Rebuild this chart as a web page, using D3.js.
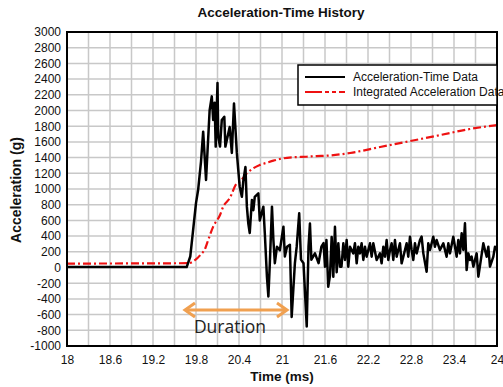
<!DOCTYPE html>
<html>
<head>
<meta charset="utf-8">
<script src="https://cdn.jsdelivr.net/npm/d3@7"></script>
<style>
  body { margin: 0; background: #fff; }
  svg { display: block; font-family: "Liberation Sans", Arial, sans-serif; }
</style>
</head>
<body>
<script>
var svgWidth = 503;
var svgHeight = 387;
var plotLeft = 67, plotRight = 497, plotTop = 32, plotBottom = 346;

// x tick labels (ms) and y tick labels (g)
var xTicks = [18, 18.6, 19.2, 19.8, 20.4, 21, 21.6, 22.2, 22.8, 23.4, 24];
var yTicks = [-1000, -800, -600, -400, -200, 0, 200, 400, 600, 800, 1000, 1200, 1400,
    1600, 1800, 2000, 2200, 2400, 2600, 2800, 3000];
var seriesNames = ["Acceleration-Time Data", "Integrated Acceleration Data"];

// acceleration-time data
var accTime = [18.00, 19.67, 19.72, 19.76, 19.80, 19.83, 19.87, 19.90, 19.94, 19.99, 20.02, 20.04,
    20.06, 20.075, 20.10, 20.11, 20.135, 20.16, 20.195, 20.21, 20.27, 20.30, 20.33, 20.37,
    20.39, 20.41, 20.44, 20.46, 20.49, 20.51, 20.53, 20.55, 20.58, 20.60, 20.62, 20.67,
    20.69, 20.74, 20.76, 20.79, 20.81, 20.83, 20.86, 20.88, 20.90, 20.93, 20.97, 21.02,
    21.04, 21.07, 21.11, 21.135, 21.18, 21.205, 21.24, 21.265, 21.30, 21.345, 21.37, 21.39,
    21.41, 21.46, 21.51, 21.55, 21.58, 21.60, 21.62, 21.645, 21.67, 21.693, 21.716, 21.739,
    21.763, 21.786, 21.809, 21.83, 21.856, 21.879, 21.902, 21.925, 21.949, 21.995, 22.018,
    22.042, 22.065, 22.088, 22.111, 22.135, 22.158, 22.181, 22.228, 22.251, 22.274, 22.321,
    22.367, 22.390, 22.414, 22.437, 22.460, 22.483, 22.507, 22.530, 22.553, 22.576, 22.600,
    22.646, 22.669, 22.693, 22.716, 22.739, 22.762, 22.786, 22.809, 22.832, 22.855, 22.879,
    22.925, 22.948, 22.972, 23.018, 23.041, 23.065, 23.111, 23.134, 23.158, 23.204, 23.251,
    23.297, 23.321, 23.344, 23.390, 23.414, 23.437, 23.460, 23.483, 23.507, 23.530, 23.553,
    23.576, 23.600, 23.623, 23.646, 23.670, 23.716, 23.74, 23.809, 23.832, 23.856, 23.879,
    23.902, 23.949, 23.972, 24.00];
var accValue = [5, 5, 140, 480, 820, 990, 1350, 1730, 1115, 2000, 2180, 1880,
    2100, 1540, 2350, 1670, 1540, 1880, 1920, 1540, 1790, 1460, 2090, 1460,
    1240, 1030, 900, 1100, 1280, 775, 560, 440, 860, 730, 900, 945,
    600, 775, 440, -120, -370, 50, 775, 350, 55, 265, 220, 520,
    140, 265, 290, -630, 55, 265, 690, 100, 55, -750, 265, 560,
    100, 180, 55, 265, 310, 10, 350, -245, -100, 390, -117, 520,
    -60, 308, 11, 10, 308, 96, 350, 11, 265, 180, 308,
    53, 265, 180, 308, 96, 265, 138, 308, 138, 308, 96,
    180, 53, 265, 138, 350, 96, 223, 308, 96, 350, 138,
    308, 53, 138, 223, 308, 138, 393, 223, 96, 308, 180,
    350, 393, 180, -53, 308, 223, 393, 265, 350, 223, 308,
    138, 308, 180, 393, 265, 138, 350, 180, 435, 223, 563,
    -32, 180, 96, 138, 11, 180, -117, 308, 223, 138, 265,
    11, 138, 265, 223];

// integrated acceleration data
var intTime = [18.00, 19.69, 19.79, 19.86, 19.93, 19.97, 20.04, 20.135, 20.18, 20.27, 20.37,
    20.41, 20.51, 20.60, 20.69, 20.79, 20.88, 21.02, 21.16, 21.34, 21.48, 21.62, 21.95,
    22.37, 22.79, 23.21, 23.62, 24.00];
var intValue = [50, 55, 96, 159, 245, 350, 520, 669, 775, 882, 1073,
    1093, 1200, 1264, 1306, 1335, 1361, 1391, 1404, 1411, 1420, 1424, 1459,
    1535, 1611, 1688, 1764, 1815];

var x = d3.scaleLinear().domain([18, 24]).range([plotLeft, plotRight]);
var y = d3.scaleLinear().domain([-1000, 3000]).range([plotBottom, plotTop]);

var svg = d3.select("body")
    .append("svg")
    .attr("width", svgWidth)
    .attr("height", svgHeight);

// grid
var gridX = d3.range(0, 21).map(function (i) { return 18 + i * 0.3; });
svg.append("g").selectAll("line")
    .data(gridX)
    .enter()
    .append("line")
    .attr("x1", function (d) { return x(d); })
    .attr("x2", function (d) { return x(d); })
    .attr("y1", plotTop)
    .attr("y2", plotBottom)
    .attr("stroke", "#c8c8c8")
    .attr("stroke-width", 1.5);
svg.append("g").selectAll("line")
    .data(yTicks)
    .enter()
    .append("line")
    .attr("x1", plotLeft)
    .attr("x2", plotRight)
    .attr("y1", function (d) { return y(d); })
    .attr("y2", function (d) { return y(d); })
    .attr("stroke", "#c8c8c8")
    .attr("stroke-width", 1.5);

// axes
var xAxis = svg.append("g")
    .attr("transform", "translate(0," + plotBottom + ")")
    .call(d3.axisBottom(x).tickValues(xTicks).tickSize(0).tickPadding(9)
        .tickFormat(function (d) { return String(d); }));
var yAxis = svg.append("g")
    .attr("transform", "translate(" + plotLeft + ",0)")
    .call(d3.axisLeft(y).tickValues(yTicks).tickSize(0).tickPadding(6)
        .tickFormat(function (d) { return String(d); }));
[xAxis, yAxis].forEach(function (a) {
    a.select(".domain").remove();
    a.selectAll("text")
        .attr("font-family", "Liberation Sans, Arial, sans-serif")
        .attr("font-size", 12)
        .attr("fill", "#111");
});

// series
var lineFn = d3.line()
    .x(function (d) { return x(d[0]); })
    .y(function (d) { return y(d[1]); });

svg.append("path")
    .datum(intTime.map(function (t, i) { return [t, intValue[i]]; }))
    .attr("d", d3.line().curve(d3.curveMonotoneX)
        .x(function (d) { return x(d[0]); })
        .y(function (d) { return y(d[1]); }))
    .attr("fill", "none")
    .attr("stroke", "#ee1111")
    .attr("stroke-width", 2.2)
    .attr("stroke-dasharray", "8,3,2,3");

svg.append("path")
    .datum(accTime.map(function (t, i) { return [t, accValue[i]]; }))
    .attr("d", lineFn)
    .attr("fill", "none")
    .attr("stroke", "#000")
    .attr("stroke-width", 2.5)
    .attr("stroke-linejoin", "round");

// plot frame
svg.append("rect")
    .attr("x", plotLeft)
    .attr("y", plotTop)
    .attr("width", plotRight - plotLeft)
    .attr("height", plotBottom - plotTop)
    .attr("fill", "none")
    .attr("stroke", "#000")
    .attr("stroke-width", 2);

// legend
var legend = svg.append("g");
legend.append("rect")
    .attr("x", 298)
    .attr("y", 65)
    .attr("width", 199)
    .attr("height", 40)
    .attr("fill", "#fff")
    .attr("stroke", "#000")
    .attr("stroke-width", 1.5);
legend.append("line")
    .attr("x1", 305).attr("x2", 345)
    .attr("y1", 77).attr("y2", 77)
    .attr("stroke", "#000")
    .attr("stroke-width", 2);
legend.append("line")
    .attr("x1", 305).attr("x2", 345)
    .attr("y1", 92).attr("y2", 92)
    .attr("stroke", "#ee1111")
    .attr("stroke-width", 2)
    .attr("stroke-dasharray", "17,3,4,3,4,3");
legend.selectAll("text")
    .data(seriesNames)
    .enter()
    .append("text")
    .attr("x", 353)
    .attr("y", function (d, i) { return 81 + i * 15; })
    .attr("font-size", 12)
    .attr("fill", "#111")
    .text(function (d) { return d; });

// duration arrow
var arrowColor = "#f0a050";
var ay = 310, ax1 = 185, ax2 = 287;
svg.append("line")
    .attr("x1", ax1 + 2).attr("x2", ax2 - 2)
    .attr("y1", ay).attr("y2", ay)
    .attr("stroke", arrowColor)
    .attr("stroke-width", 3);
svg.append("path")
    .attr("d", "M" + (ax1 + 10) + "," + (ay - 7) + " L" + ax1 + "," + ay + " L" + (ax1 + 10) + "," + (ay + 7))
    .attr("fill", "none")
    .attr("stroke", arrowColor)
    .attr("stroke-width", 3);
svg.append("path")
    .attr("d", "M" + (ax2 - 10) + "," + (ay - 7) + " L" + ax2 + "," + ay + " L" + (ax2 - 10) + "," + (ay + 7))
    .attr("fill", "none")
    .attr("stroke", arrowColor)
    .attr("stroke-width", 3);
svg.append("text")
    .attr("x", 230)
    .attr("y", 333)
    .attr("text-anchor", "middle")
    .attr("font-family", "Open Sans, sans-serif")
    .attr("font-size", 17.5)
    .attr("fill", "#222")
    .text("Duration");

// titles
svg.append("text")
    .attr("x", 281)
    .attr("y", 17)
    .attr("text-anchor", "middle")
    .attr("font-weight", "bold")
    .attr("font-size", 13.5)
    .attr("fill", "#111")
    .text("Acceleration-Time History");
svg.append("text")
    .attr("x", 282)
    .attr("y", 381)
    .attr("text-anchor", "middle")
    .attr("font-weight", "bold")
    .attr("font-size", 13.5)
    .attr("fill", "#111")
    .text("Time (ms)");
svg.append("text")
    .attr("transform", "translate(21,190) rotate(-90)")
    .attr("text-anchor", "middle")
    .attr("font-weight", "bold")
    .attr("font-size", 14)
    .attr("fill", "#111")
    .text("Acceleration (g)");
</script>
</body>
</html>
